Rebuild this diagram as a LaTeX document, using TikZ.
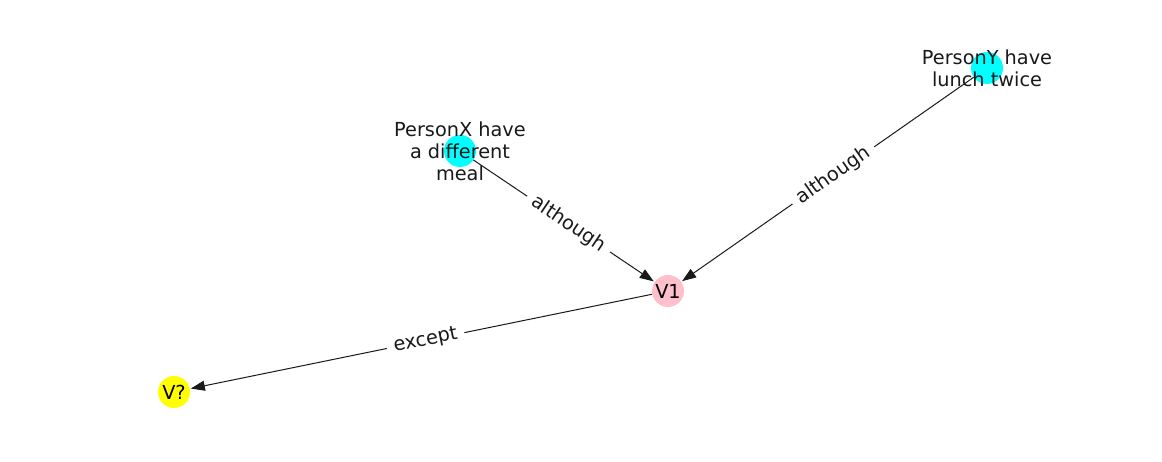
\documentclass[tikz,border=0pt]{standalone}
\usepackage{fontspec}
\setmainfont{DejaVu Sans}
\usetikzlibrary{arrows.meta}
\begin{document}
\begin{tikzpicture}[x=1pt,y=-1pt,
  vert/.style={circle,minimum size=32pt,inner sep=0pt,font=\fontsize{19.3pt}{22pt}\selectfont},
  txt/.style={align=center,inner sep=0pt,font=\fontsize{19.3pt}{22pt}\selectfont,text=black!90},
  edge/.style={draw=black!90,line width=1pt,-{Triangle[length=14pt,width=10pt]},shorten >=1pt},
  elab/.style={sloped,fill=white,inner xsep=7pt,inner ysep=4pt,font=\fontsize{19.3pt}{22pt}\selectfont,text=black!90}]
\useasboundingbox (0,0) rectangle (1162,462);
\node[vert,fill={rgb,255:red,0;green,255;blue,255}] (px) at (460,151) {};
\node[vert,fill={rgb,255:red,0;green,255;blue,255}] (py) at (987,68) {};
\node[vert,fill={rgb,255:red,255;green,192;blue,203}] (v1) at (668,291) {V1};
\node[vert,fill={rgb,255:red,255;green,255;blue,0}] (vq) at (174,392) {V?};
\draw[edge] (px) -- (v1) node[elab,pos=0.525] {although};
\draw[edge] (py) -- (v1) node[elab,pos=0.48] {although};
\draw[edge] (v1) -- (vq) node[elab,pos=0.49] {except};
\node[txt] (pxl) at (px) {PersonX have\\a different\\meal};
\node[txt] (pyl) at (py) {PersonY have\\lunch twice};
\end{tikzpicture}
\end{document}
